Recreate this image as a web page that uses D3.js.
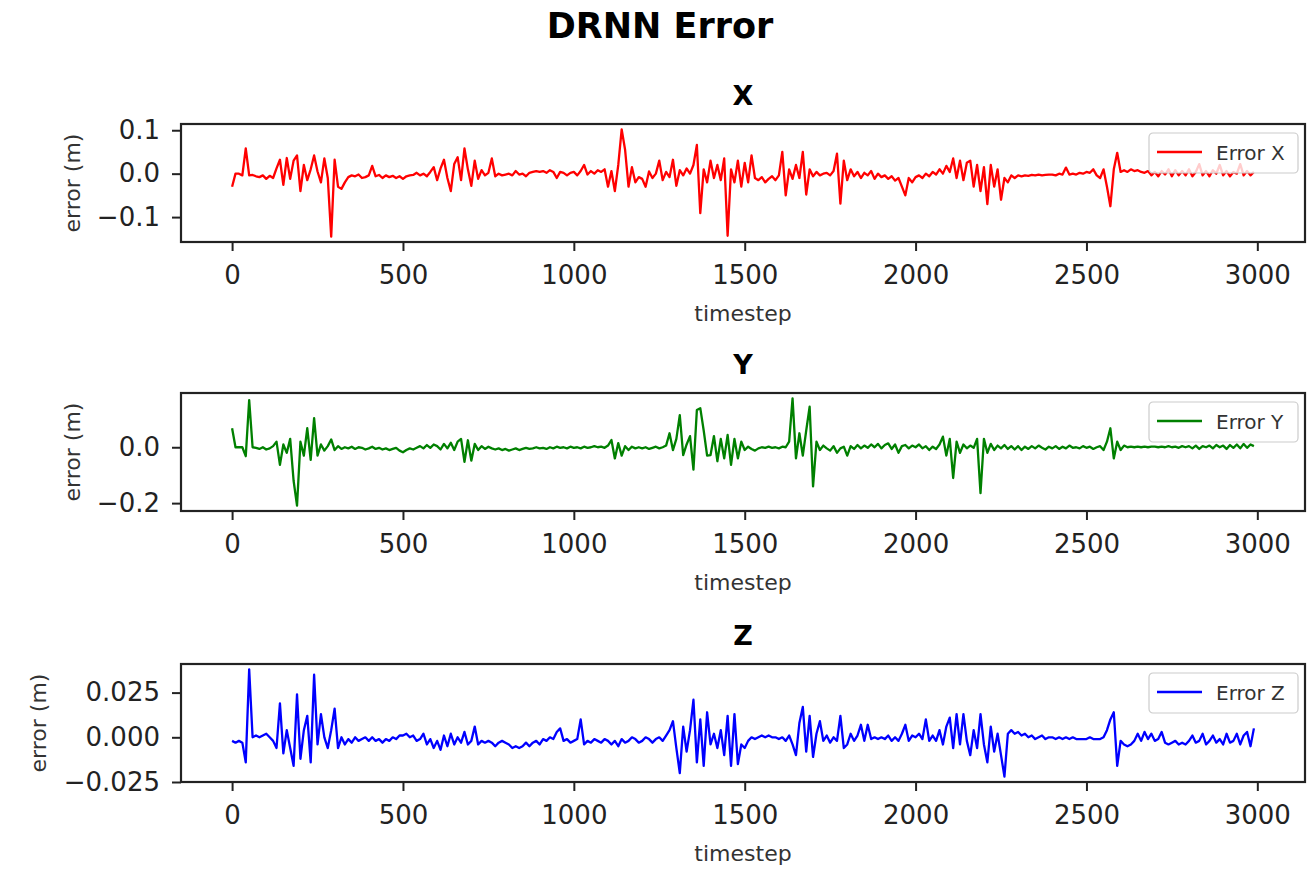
<!DOCTYPE html>
<html>
<head>
<meta charset="utf-8">
<script src="https://cdn.jsdelivr.net/npm/d3@7"></script>
<style>
body { margin: 0; background: #fff; }
svg { display: block; font-family: "DejaVu Sans", sans-serif; }
</style>
</head>
<body>
<svg id="chart" width="1308" height="869"></svg>
<script>
// one sample every 10 timesteps
var timesteps = d3.range(0, 3000, 10);

var error_x = [
	-0.030,0.000,0.000,-0.004,0.058,-0.004,-0.003,-0.006,-0.008,-0.004,-0.012,-0.005,-0.010,0.012,0.032,-0.026,0.036,-0.012,0.030,0.042,
	-0.040,0.020,-0.015,0.010,0.042,0.005,-0.020,0.035,-0.010,-0.145,0.032,-0.030,-0.035,-0.020,-0.008,-0.004,-0.006,-0.002,-0.010,-0.008,
	-0.004,0.018,-0.006,-0.003,-0.010,-0.004,-0.008,-0.005,-0.010,-0.006,-0.012,-0.006,-0.004,-0.003,0.002,-0.004,0.000,-0.006,0.004,0.015,
	-0.015,0.012,0.032,-0.010,-0.040,0.022,0.038,-0.015,0.058,0.010,-0.028,0.030,-0.012,0.008,-0.004,0.002,0.035,-0.006,0.000,-0.004,
	-0.002,0.000,-0.004,0.006,-0.002,0.000,-0.006,0.002,0.004,0.006,0.004,0.006,0.002,0.008,0.004,-0.010,0.004,0.002,-0.004,0.002,
	0.004,-0.004,0.006,0.020,-0.002,0.006,0.000,0.008,0.004,0.010,-0.030,0.006,-0.040,0.020,0.102,0.055,-0.030,0.015,-0.020,-0.008,
	-0.012,-0.030,0.005,-0.010,0.000,0.030,-0.015,0.004,-0.008,0.032,-0.028,0.008,-0.004,0.012,0.000,0.020,0.066,-0.091,0.010,-0.020,
	0.030,-0.010,0.020,-0.015,0.035,-0.143,0.010,-0.020,0.030,-0.030,0.025,-0.020,0.042,-0.010,-0.015,-0.008,-0.020,-0.012,-0.006,-0.015,
	-0.004,0.050,-0.050,0.010,-0.012,0.020,-0.010,0.050,-0.048,0.010,-0.006,0.004,-0.004,0.000,0.002,-0.004,0.006,0.046,-0.069,0.030,
	-0.015,0.010,-0.006,0.004,-0.010,0.002,-0.004,0.006,-0.012,0.000,-0.008,-0.004,-0.012,-0.006,-0.016,-0.010,-0.030,-0.050,-0.010,-0.020,
	-0.008,-0.004,-0.010,0.000,-0.006,0.004,-0.002,0.010,0.000,0.018,0.004,0.035,-0.010,0.030,-0.015,0.025,0.030,-0.030,0.020,-0.040,
	0.015,-0.070,0.020,-0.030,0.010,-0.060,-0.010,-0.020,-0.004,-0.010,-0.004,-0.006,-0.004,-0.005,-0.003,-0.004,-0.002,-0.004,-0.003,-0.002,
	-0.002,-0.004,0.000,-0.002,0.014,-0.002,0.000,-0.002,0.002,0.000,0.004,0.002,0.010,-0.004,-0.010,0.010,-0.030,-0.075,0.010,0.048,
	0.004,0.008,0.004,0.010,0.006,0.008,0.004,0.002,0.006,-0.004,0.004,-0.006,0.006,-0.002,0.010,-0.006,0.008,-0.004,0.006,-0.004,
	0.010,-0.006,0.004,0.022,-0.004,0.006,-0.006,0.008,0.000,0.020,-0.004,0.006,-0.006,0.004,0.000,0.022,-0.004,0.006,-0.004,0.004
];

var error_y = [
	0.068,0.000,0.000,0.000,-0.032,0.169,0.000,-0.002,-0.006,0.000,-0.008,-0.004,0.004,0.020,-0.063,0.010,-0.020,0.030,-0.120,-0.209,
	0.020,-0.030,0.068,-0.045,0.104,-0.030,0.010,-0.012,0.004,0.028,-0.010,0.004,-0.006,0.000,-0.004,0.002,-0.006,0.000,-0.002,-0.008,
	-0.004,0.002,-0.006,-0.002,-0.008,-0.004,-0.010,-0.006,-0.002,-0.012,-0.018,-0.010,-0.004,-0.008,-0.002,0.004,-0.004,0.008,-0.002,0.010,
	0.004,-0.008,0.012,-0.004,0.016,-0.010,0.020,0.030,-0.052,0.025,-0.048,0.012,-0.010,0.004,-0.006,0.002,-0.004,-0.008,-0.004,-0.010,
	-0.006,-0.012,-0.008,-0.004,-0.010,-0.006,-0.002,-0.006,-0.004,0.000,-0.004,-0.002,-0.006,0.000,-0.004,0.002,-0.002,0.000,-0.004,0.002,
	-0.002,0.000,-0.004,0.002,-0.002,0.000,0.004,0.000,0.002,-0.002,0.006,0.026,-0.040,0.015,-0.030,0.004,-0.010,0.002,-0.004,0.000,
	-0.004,0.000,-0.006,-0.002,0.002,-0.004,0.000,0.006,0.050,-0.010,0.030,0.115,-0.028,0.010,0.040,-0.080,0.133,0.140,0.060,-0.030,
	-0.028,0.040,-0.050,0.030,-0.040,0.044,-0.063,0.030,-0.040,0.020,-0.010,0.002,-0.006,-0.012,-0.004,0.000,-0.002,0.002,-0.002,0.000,
	-0.004,0.002,0.000,0.020,0.175,-0.040,0.050,-0.030,0.060,0.145,-0.140,0.020,-0.010,0.006,-0.004,-0.012,0.004,-0.020,-0.004,0.002,
	-0.030,0.004,-0.006,0.008,-0.004,0.006,-0.002,0.010,0.000,0.012,-0.004,0.008,0.014,-0.006,0.010,-0.020,0.004,0.008,-0.004,0.006,
	0.000,0.010,-0.004,0.004,-0.010,0.002,-0.006,0.010,0.038,-0.030,0.030,-0.110,0.020,-0.020,0.010,-0.004,0.006,-0.002,0.030,-0.164,
	0.030,-0.020,0.012,-0.010,0.006,-0.004,0.008,-0.006,0.004,-0.008,0.004,-0.010,0.002,-0.006,0.004,-0.004,0.006,-0.002,-0.008,0.002,
	-0.004,0.004,-0.006,0.002,-0.004,0.006,-0.002,0.000,-0.004,0.004,-0.002,0.002,-0.006,0.000,0.004,-0.010,0.020,0.068,-0.040,0.020,
	-0.010,0.006,0.000,0.002,0.000,0.002,0.000,0.002,0.000,0.002,0.002,0.000,0.002,0.000,0.004,0.000,0.002,-0.002,0.004,0.000,
	0.004,-0.004,0.006,-0.006,0.004,0.000,0.006,-0.004,0.008,0.000,0.006,-0.006,0.008,-0.002,0.010,-0.004,0.012,-0.002,0.010,0.004
];

var error_z = [
	-0.002,-0.003,-0.002,-0.003,-0.014,0.038,0.000,0.001,0.000,0.001,0.002,0.000,-0.002,-0.006,0.019,-0.009,0.004,-0.006,-0.016,0.024,
	-0.012,0.004,0.012,-0.014,0.035,-0.004,0.013,0.000,-0.006,0.004,0.016,-0.006,0.000,-0.004,-0.001,-0.003,0.000,-0.002,-0.001,0.000,
	-0.002,0.000,-0.002,-0.001,-0.003,-0.001,-0.002,0.000,-0.001,0.001,0.001,0.002,0.000,0.001,-0.002,-0.001,0.002,-0.004,-0.001,-0.006,
	-0.002,-0.007,0.001,-0.005,0.002,-0.004,0.000,-0.003,0.003,-0.004,-0.002,0.006,-0.004,-0.002,-0.003,-0.002,-0.003,-0.005,-0.003,-0.002,
	-0.003,-0.004,-0.006,-0.005,-0.006,-0.005,-0.003,-0.005,-0.003,-0.002,-0.004,-0.001,-0.002,0.000,-0.001,0.003,0.005,-0.002,-0.001,-0.003,
	-0.002,-0.001,0.010,-0.004,-0.002,-0.003,-0.001,-0.002,-0.003,-0.001,-0.002,-0.004,-0.002,-0.005,-0.001,-0.003,-0.002,0.000,-0.001,-0.003,
	-0.002,0.000,-0.001,-0.003,-0.001,0.000,-0.002,0.001,0.004,0.009,-0.006,-0.020,0.006,-0.008,0.004,0.021,-0.014,0.010,-0.016,0.014,
	-0.004,0.002,-0.006,0.004,-0.010,0.012,-0.016,0.013,-0.015,-0.004,-0.006,-0.002,0.000,-0.001,0.000,0.001,0.000,0.001,0.000,0.000,
	-0.001,0.000,-0.002,0.001,-0.004,-0.010,0.008,0.017,-0.008,0.012,-0.011,0.002,0.009,-0.002,0.001,-0.003,0.000,-0.002,0.012,-0.006,
	-0.004,0.002,-0.002,0.001,0.007,-0.002,0.007,-0.001,0.000,-0.001,0.000,-0.001,0.001,-0.002,0.000,-0.002,0.002,0.007,-0.002,0.001,
	0.000,0.002,-0.001,0.010,-0.002,0.001,-0.002,0.004,-0.004,0.006,0.011,-0.006,0.013,-0.004,0.013,-0.002,-0.010,0.004,-0.006,0.013,
	-0.004,-0.014,0.006,-0.008,0.002,-0.010,-0.022,0.002,0.004,0.002,0.003,0.001,0.002,0.000,0.001,-0.001,0.000,0.001,-0.001,0.000,
	0.000,-0.001,0.000,-0.001,0.000,-0.001,0.000,-0.001,-0.001,-0.001,-0.001,0.000,-0.001,-0.001,-0.001,0.000,0.004,0.010,0.014,-0.016,
	-0.002,-0.004,-0.005,-0.004,-0.002,0.002,-0.002,0.003,-0.001,0.002,-0.002,-0.001,0.003,-0.003,-0.004,-0.003,-0.002,-0.004,-0.003,-0.004,
	-0.002,0.001,-0.003,-0.002,0.002,-0.004,-0.002,0.001,-0.003,-0.001,-0.004,0.002,-0.003,-0.002,0.002,-0.004,0.001,0.003,-0.005,0.005
];

var panel_titles = ['X', 'Y', 'Z'];
var legend_labels = ['Error X', 'Error Y', 'Error Z'];
var line_colors = ['#ff0000', '#008000', '#0000ff'];
var x_tick_values = [0, 500, 1000, 1500, 2000, 2500, 3000];
var y_tick_values = [[-0.1, 0.0, 0.1], [-0.2, 0.0], [-0.025, 0.000, 0.025]];
var y_tick_formats = ['.1f', '.1f', '.3f'];

var svg = d3.select('#chart');
var plot_left = 181, plot_right = 1305;
var plot_tops = [124, 393, 664];
var plot_height = 118;
var axis_color = '#222';

// matplotlib style 5% margins
function padded(ext) {
	var m = (ext[1] - ext[0]) * 0.05;
	return [ext[0] - m, ext[1] + m];
}

svg.append('text')
	.attr('x', 660)
	.attr('y', 38)
	.attr('text-anchor', 'middle')
	.attr('font-weight', 'bold')
	.attr('font-size', 35)
	.text('DRNN Error');

var x = d3.scaleLinear().domain(padded(d3.extent(timesteps))).range([plot_left, plot_right]);

function draw_panel(ind, values) {
	var top = plot_tops[ind];
	var bottom = top + plot_height;
	var mid_x = (plot_left + plot_right) / 2;
	var y = d3.scaleLinear().domain(padded(d3.extent(values))).range([bottom, top]);
	var g = svg.append('g');

	g.append('text')
		.attr('x', mid_x)
		.attr('y', top - 19)
		.attr('text-anchor', 'middle')
		.attr('font-weight', 'bold')
		.attr('font-size', 27)
		.text(panel_titles[ind]);

	var line = d3.line()
		.x(function(d, i) { return x(timesteps[i]); })
		.y(function(d) { return y(d); });
	g.append('path')
		.datum(values)
		.attr('d', line)
		.attr('fill', 'none')
		.attr('stroke', line_colors[ind])
		.attr('stroke-width', 2.3)
		.attr('stroke-linejoin', 'round');

	var gx = g.append('g')
		.attr('transform', 'translate(0,' + bottom + ')')
		.call(d3.axisBottom(x).tickValues(x_tick_values).tickSize(9).tickPadding(15).tickFormat(d3.format('d')));
	var gy = g.append('g')
		.attr('transform', 'translate(' + plot_left + ',0)')
		.call(d3.axisLeft(y).tickValues(y_tick_values[ind]).tickSize(9).tickPadding(12).tickFormat(d3.format(y_tick_formats[ind])));
	[gx, gy].forEach(function(ax) {
		ax.select('.domain').remove();
		ax.attr('font-size', 26).attr('font-family', '"DejaVu Sans", sans-serif');
		ax.selectAll('.tick line').attr('stroke', axis_color).attr('stroke-width', 2);
		ax.selectAll('.tick text').attr('fill', axis_color);
	});

	g.append('rect')
		.attr('x', plot_left)
		.attr('y', top)
		.attr('width', plot_right - plot_left)
		.attr('height', plot_height)
		.attr('fill', 'none')
		.attr('stroke', axis_color)
		.attr('stroke-width', 2.2);

	// legend, upper right
	var lg = g.append('g').attr('transform', 'translate(' + (plot_right - 156) + ',' + (top + 9) + ')');
	lg.append('rect')
		.attr('width', 149)
		.attr('height', 40)
		.attr('rx', 4)
		.attr('fill', '#fff')
		.attr('fill-opacity', 0.8)
		.attr('stroke', '#cccccc')
		.attr('stroke-width', 1.2);
	lg.append('line')
		.attr('x1', 8).attr('x2', 53)
		.attr('y1', 19).attr('y2', 19)
		.attr('stroke', line_colors[ind])
		.attr('stroke-width', 2.3);
	lg.append('text')
		.attr('x', 67)
		.attr('y', 27)
		.attr('font-size', 20)
		.attr('fill', '#333')
		.text(legend_labels[ind]);

	g.append('text')
		.attr('x', mid_x)
		.attr('y', bottom + 79)
		.attr('text-anchor', 'middle')
		.attr('font-size', 22)
		.attr('fill', '#333')
		.text('timestep');

	var lab_x = gy.node().getBBox().x + plot_left - 25;
	g.append('text')
		.attr('transform', 'translate(' + lab_x + ',' + ((top + bottom) / 2) + ') rotate(-90)')
		.attr('text-anchor', 'middle')
		.attr('dy', '0.35em')
		.attr('font-size', 22)
		.attr('fill', '#333')
		.text('error (m)');
}

draw_panel(0, error_x);
draw_panel(1, error_y);
draw_panel(2, error_z);
</script>
</body>
</html>
